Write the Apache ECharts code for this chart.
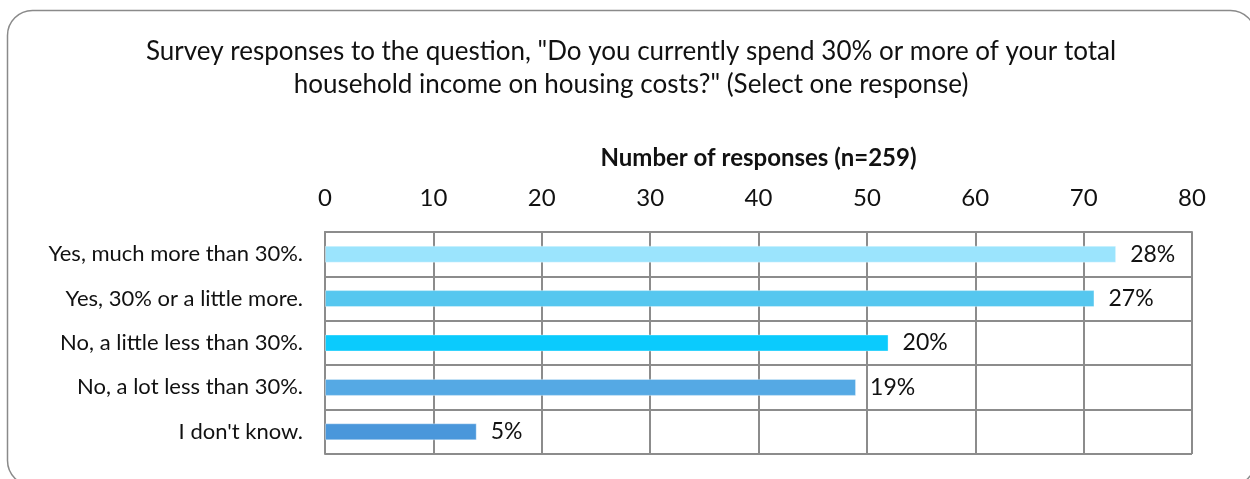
<!DOCTYPE html>
<html>
<head>
<meta charset="utf-8">
<script src="https://cdn.jsdelivr.net/npm/echarts@6/dist/echarts.min.js"></script>
<style>
  html, body { margin: 0; padding: 0; background: #fff; }
  #chart { width: 1250px; height: 479px; }
</style>
</head>
<body>
<div id="chart"></div>
<script>
// Survey answers, top to bottom as shown
const categories = [
  "Yes, much more than 30%.",
  "Yes, 30% or a little more.",
  "No, a little less than 30%.",
  "No, a lot less than 30%.",
  "I don't know."
];
const counts = [73, 71, 52, 49, 14];
const percentLabels = ["28%", "27%", "20%", "19%", "5%"];
const barColors = ["#9BE4FD", "#56C7EF", "#0BCBFD", "#55A9E4", "#4A97DB"];
const xTicks = [0, 10, 20, 30, 40, 50, 60, 70, 80];

const FONT = "Lato, 'Open Sans', sans-serif";
const chart = echarts.init(document.getElementById('chart'));

chart.setOption({
  animation: false,
  backgroundColor: '#ffffff',
  title: {
    text: 'Survey responses to the question, "Do you currently spend 30% or more of your total\nhousehold income on housing costs?" (Select one response)',
    left: 626,
    top: 30,
    textAlign: 'center',
    textStyle: {
      fontFamily: FONT,
      fontSize: 26,
      fontWeight: 'normal',
      color: '#111',
      lineHeight: 33
    }
  },
  graphic: [{
    type: 'rect',
    shape: { x: 7.5, y: 10.5, width: 1248, height: 475, r: 25 },
    style: { fill: 'none', stroke: '#8a8a8a', lineWidth: 1.5 },
    silent: true
  }],
  grid: { left: 325, right: 58, top: 232, bottom: 25 },
  xAxis: {
    type: 'value',
    position: 'top',
    min: xTicks[0],
    max: xTicks[xTicks.length - 1],
    interval: 10,
    name: 'Number of responses (n=259)',
    nameLocation: 'middle',
    nameGap: 62,
    nameTextStyle: { fontFamily: FONT, fontSize: 24, fontWeight: 'bold', color: '#111' },
    axisLine: { show: true, lineStyle: { color: '#8c8c8c', width: 2 } },
    axisTick: { show: false },
    axisLabel: { fontFamily: FONT, fontSize: 24, color: '#111', margin: 22 },
    splitLine: { show: true, lineStyle: { color: '#8c8c8c', width: 2 } }
  },
  yAxis: {
    type: 'category',
    inverse: true,
    data: categories,
    axisLine: { show: true, lineStyle: { color: '#8c8c8c', width: 2 } },
    axisTick: { show: false },
    axisLabel: { fontFamily: FONT, fontSize: 22, color: '#111', margin: 22 },
    splitLine: { show: true, lineStyle: { color: '#8c8c8c', width: 2 } }
  },
  series: [{
    type: 'bar',
    data: counts.map((v, i) => ({ value: v, itemStyle: { color: barColors[i] } })),
    barWidth: 17,
    itemStyle: { borderColor: 'rgba(255,255,255,0.35)', borderWidth: 1 },
    label: {
      show: true,
      position: 'right',
      distance: 14,
      fontFamily: FONT,
      fontSize: 23,
      color: '#111',
      formatter: p => percentLabels[p.dataIndex]
    }
  }]
});
</script>
</body>
</html>
